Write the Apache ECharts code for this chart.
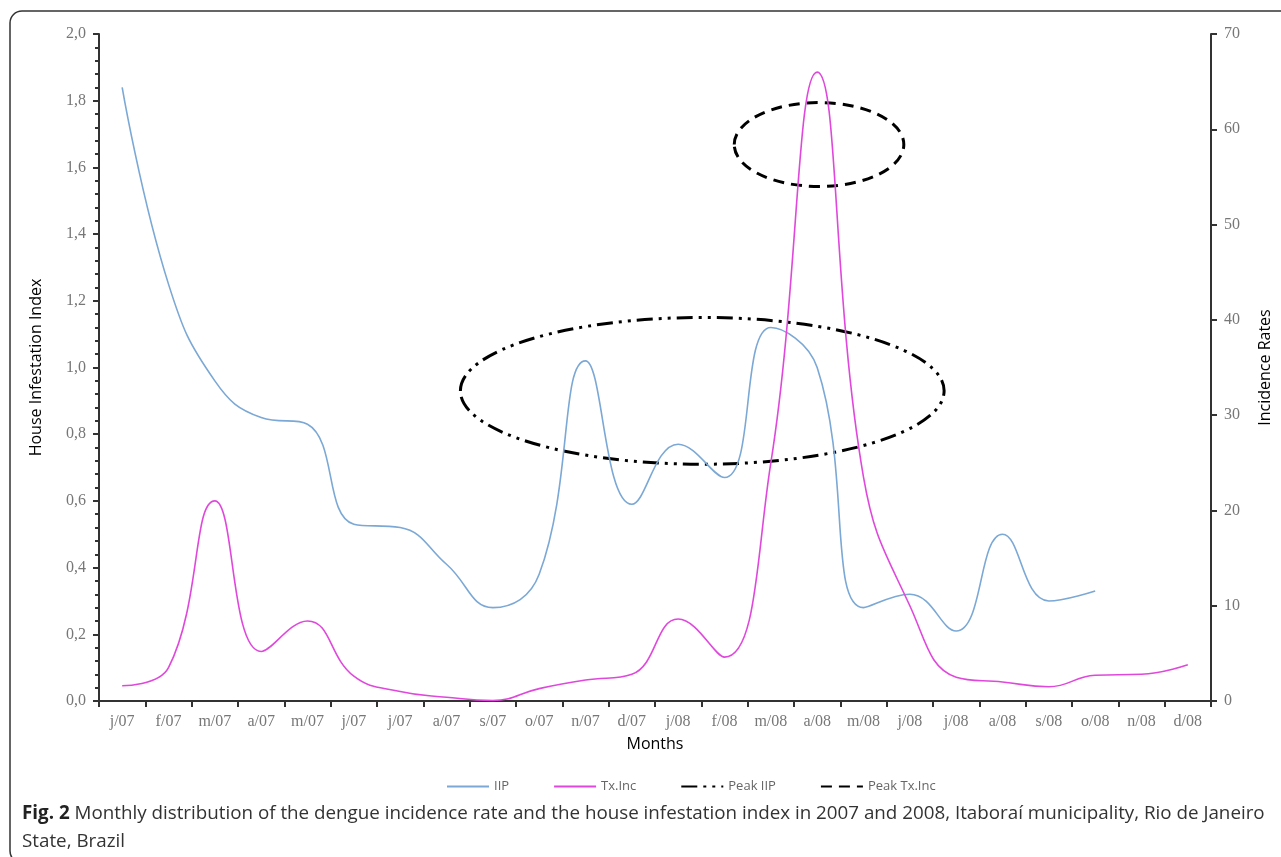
<!DOCTYPE html>
<html>
<head>
<meta charset="utf-8">
<script src="https://cdn.jsdelivr.net/npm/echarts@6.0.0/dist/echarts.min.js"></script>
<style>
html,body{margin:0;padding:0;background:#fff;}
#chart{width:1281px;height:857px;}
</style>
</head>
<body>
<div id="chart"></div>
<script>
// ---- data ----
var months = ['j/07','f/07','m/07','a/07','m/07','j/07','j/07','a/07','s/07','o/07','n/07','d/07',
              'j/08','f/08','m/08','a/08','m/08','j/08','j/08','a/08','s/08','o/08','n/08','d/08'];
var iip = [1.84, 1.25, 0.96, 0.85, 0.83, 0.53, 0.52, 0.41, 0.28, 0.38, 1.02, 0.59,
           0.77, 0.67, 1.12, 1.00, 0.28, 0.32, 0.21, 0.50, 0.30, 0.33, null, null];
var txInc = [1.6, 3.5, 21.0, 5.2, 8.4, 2.6, 1.0, 0.4, 0.05, 1.3, 2.2, 2.8,
             8.6, 4.6, 25.0, 66.0, 23.5, 10.0, 2.5, 2.0, 1.5, 2.7, 2.8, 3.8];
// ellipses: [center category position, center value, radius in categories, radius in value units]
var peakIipEllipse = [12.52, 0.93, 5.22, 0.22];
var peakTxEllipse = [15.04, 58.4, 1.83, 4.4];
var leftTicks = {min: 0, max: 2, interval: 0.2};
var rightTicks = {min: 0, max: 70, interval: 10};
var seriesNames = ['IIP', 'Tx.Inc', 'Peak IIP', 'Peak Tx.Inc'];

var DASH_DOT_DOT = [16, 6, 3, 6, 3, 6];
var DASHED = [11, 7];

function ellipseRenderer(e, dash) {
  return function (params, api) {
    var a = api.coord([0, e[1]]);
    var b = api.coord([1, e[1]]);
    var band = b[0] - a[0];
    var cx = a[0] + band * e[0];
    var cy = a[1];
    var top = api.coord([0, e[1] + e[3]]);
    return {
      type: 'ellipse',
      shape: {cx: cx, cy: cy, rx: band * e[2], ry: cy - top[1]},
      style: {fill: 'none', stroke: '#000', lineWidth: 3, lineDash: dash}
    };
  };
}

var chart = echarts.init(document.getElementById('chart'), null, {renderer: 'canvas'});
var serifLabel = {fontFamily: '"Liberation Serif", "DejaVu Serif", serif', fontSize: 16, color: '#777'};
var fmt = function (v) { return (Math.round(v * 10) / 10).toFixed(1).replace('.', ','); };
var sans = '"Open Sans", "Noto Sans", sans-serif';

chart.setOption({
  backgroundColor: '#fff',
  animation: false,
  grid: {left: 99, right: 58, top: 34, bottom: 156, containLabel: false},
  legend: {
    data: seriesNames,
    left: 441, top: 775,
    itemWidth: 42, itemHeight: 12, itemGap: 44,
    itemStyle: {opacity: 0},
    textStyle: {fontFamily: sans, fontSize: 13, color: '#666'}
  },
  xAxis: {
    type: 'category',
    data: months,
    boundaryGap: true,
    name: 'Months',
    nameLocation: 'middle',
    nameGap: 35,
    nameTextStyle: {fontFamily: sans, fontSize: 16, color: '#000'},
    axisLine: {lineStyle: {color: '#333', width: 2}},
    axisTick: {show: true, alignWithLabel: false, length: 6, lineStyle: {color: '#333', width: 2}},
    axisLabel: Object.assign({margin: 13, interval: 0}, serifLabel),
    splitLine: {show: false}
  },
  yAxis: [
    {
      type: 'value',
      min: leftTicks.min, max: leftTicks.max, interval: leftTicks.interval,
      name: 'House Infestation Index',
      nameLocation: 'middle',
      nameGap: 55,
      nameRotate: 90,
      nameTextStyle: {fontFamily: sans, fontSize: 16, color: '#000'},
      axisLine: {show: true, lineStyle: {color: '#333', width: 2}},
      axisTick: {show: true, length: 6, lineStyle: {color: '#333', width: 2}},
      minorTick: {show: true, splitNumber: 5, length: 4, lineStyle: {color: '#333', width: 2}},
      axisLabel: Object.assign({margin: 13, formatter: fmt}, serifLabel),
      splitLine: {show: false}
    },
    {
      type: 'value',
      position: 'right',
      min: rightTicks.min, max: rightTicks.max, interval: rightTicks.interval,
      name: 'Incidence Rates',
      nameLocation: 'middle',
      nameGap: 46,
      nameRotate: 90,
      nameTextStyle: {fontFamily: sans, fontSize: 16, color: '#000'},
      axisLine: {show: true, lineStyle: {color: '#333', width: 2}},
      axisTick: {show: true, length: 6, lineStyle: {color: '#333', width: 2}},
      axisLabel: Object.assign({margin: 13}, serifLabel),
      splitLine: {show: false}
    }
  ],
  series: [
    {
      name: seriesNames[0], type: 'line', yAxisIndex: 0, data: iip,
      smooth: 0.45, showSymbol: false, symbol: 'none', connectNulls: false,
      lineStyle: {color: '#7ba8d5', width: 1.6}, itemStyle: {color: '#7ba8d5'}, z: 3
    },
    {
      name: seriesNames[1], type: 'line', yAxisIndex: 1, data: txInc,
      smooth: 0.45, showSymbol: false, symbol: 'none',
      lineStyle: {color: '#e048dc', width: 1.6}, itemStyle: {color: '#e048dc'}, z: 3
    },
    {
      name: seriesNames[2], type: 'line', yAxisIndex: 0, data: [], symbol: 'none',
      lineStyle: {color: '#000', width: 3, type: DASH_DOT_DOT}, itemStyle: {color: '#000'}
    },
    {
      name: seriesNames[3], type: 'line', yAxisIndex: 1, data: [], symbol: 'none',
      lineStyle: {color: '#000', width: 3, type: DASHED}, itemStyle: {color: '#000'}
    },
    {
      type: 'custom', yAxisIndex: 0, silent: true, z: 2,
      data: [[0, peakIipEllipse[1]]],
      renderItem: ellipseRenderer(peakIipEllipse, DASH_DOT_DOT)
    },
    {
      type: 'custom', yAxisIndex: 1, silent: true, z: 2,
      data: [[0, peakTxEllipse[1]]],
      renderItem: ellipseRenderer(peakTxEllipse, DASHED)
    }
  ],
  graphic: [
    {
      type: 'rect', silent: true, z: -1,
      shape: {x: 10, y: 11, width: 1300, height: 852, r: 12},
      style: {fill: 'none', stroke: '#333', lineWidth: 1.5}
    },
    {
      type: 'text', left: 22, top: 800, silent: true,
      style: {
        text: '{b|Fig. 2} Monthly distribution of the dengue incidence rate and the house infestation index in 2007 and 2008, Itaboraí municipality, Rio de Janeiro\nState, Brazil',
        fontFamily: sans,
        fontSize: 18.8,
        lineHeight: 28,
        fill: '#333',
        rich: {
          b: {fontWeight: 'bold', fontFamily: sans, fontSize: 18.8, lineHeight: 28, fill: '#222'}
        }
      }
    }
  ]
});
</script>
</body>
</html>
